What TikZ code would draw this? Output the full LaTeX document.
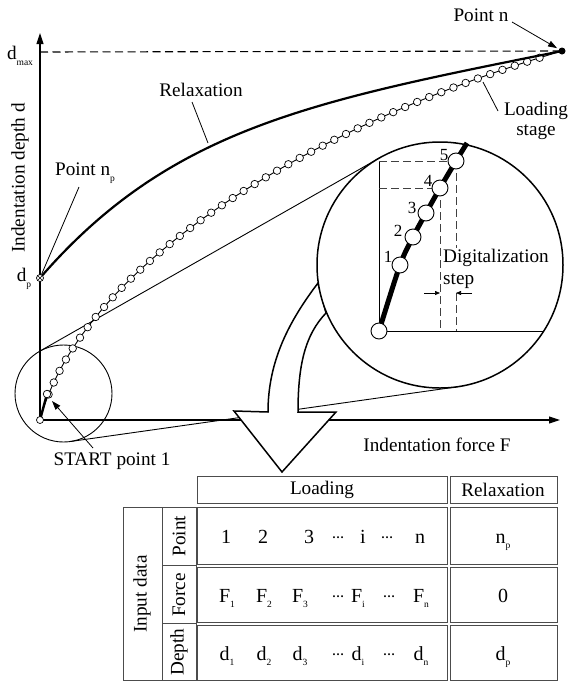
\documentclass[tikz,border=0pt]{standalone}
\usepackage{fontspec}
\setmainfont{Liberation Serif}
\usepackage{amsmath}
\usetikzlibrary{arrows.meta,decorations.markings}
\newcommand{\sbs}[1]{\raisebox{-0.28em}{\fontsize{9.5}{9.5}\selectfont #1}}
\newcommand{\tdots}{\raisebox{5pt}{\fontsize{12}{12}\selectfont\textbf{…}}}
\tikzset{
  lbl/.style={font=\fontsize{19.2}{20}\selectfont, inner sep=0pt},
  tbl/.style={font=\fontsize{20}{22}\selectfont, inner sep=0pt},
  numl/.style={font=\fontsize{17}{20}\selectfont, inner sep=0pt},
  tcell/.style={draw=black!70, line width=0.9pt},
  dot/.style={circle, draw, fill=white, inner sep=0pt, minimum size=7.5pt, line width=0.7pt},
  bigdot/.style={circle, draw, fill=white, inner sep=0pt, minimum size=16pt, line width=0.9pt},
  dsh/.style={dash pattern=on 8pt off 4pt, line width=1pt, black!75},
  lead/.style={line width=0.8pt},
  ptr/.style={line width=0.8pt, -{Triangle[length=9pt,width=6pt]}},
  sptr/.style={line width=0.7pt, -{Triangle[length=5pt,width=4pt]}},
  axis/.style={line width=1.1pt, -{Triangle[length=11pt,width=7pt]}},
}
\begin{document}
\begin{tikzpicture}[x=1pt,y=-1pt]
\useasboundingbox (0,0) rectangle (568,681);
% ---------- coordinates
\coordinate (O) at (40,420);
\coordinate (ytop) at (40,33);
\coordinate (xend) at (560,420);
\coordinate (dmaxL) at (40,52);
\coordinate (NP) at (40,278);
\node[circle, fill, inner sep=0pt, minimum size=7pt] (N) at (562,51) {};
% ---------- small circle and tangents
\draw[line width=0.9pt] (63.5,393.5) circle (48.5);
\coordinate (t1a) at (39.5,351.3);
\coordinate (t1b) at (379.2,158.1);
\coordinate (t2a) at (70.3,441.5);
\coordinate (t2b) at (457.2,386.8);
\draw[line width=0.9pt] (t1a) -- (t1b);
\draw[line width=0.9pt] (t2a) -- (t2b);
% ---------- dmax dashed
\draw[dash pattern=on 8pt off 4.5pt, line width=1.1pt] (dmaxL) -- (N.center);
% ---------- loading curve
\draw[line width=0.9pt, postaction={decorate},
  decoration={markings, mark=between positions 27pt and -22pt step 13pt with {\node[dot] {};}}]
  (O) .. controls (80,270) and (300,128) .. (N.center);
\draw[line width=2.4pt] (O) -- (47,394);
\node[dot] at (47,394) {};
% ---------- relaxation curve
\draw[line width=2.2pt] (NP) .. controls (170,128) and (312,101) .. (N.center);
% ---------- axes
\draw[axis] (O) -- (ytop);
\draw[axis] (O) -- (xend);
\node[dot, minimum size=7pt] (o) at (O) {};
\node[dot, minimum size=7pt] (dp) at (NP) {};
\draw[line width=0.5pt] (dp.north west) -- (dp.south east) (dp.north east) -- (dp.south west);
% ---------- labels of main plot
\node[lbl] at (20,56) {d\sbs{max}};
\node[lbl, rotate=90] at (20,178) {Indentation depth d};
\node[lbl] at (24,279) {d\sbs{p}};
\node[lbl] (relax) at (201,90) {Relaxation};
\coordinate (relaxc) at (208,143);
\draw[lead] (192,102) -- (relaxc);
\node[lbl] (pnp) at (85,173) {Point n\sbs{p}};
\draw[lead] (79,187) -- (dp);
\node[lbl, align=center] (ls) at (536,121) {Loading\\stage};
\coordinate (lsc) at (483,82);
\draw[lead] (498,111) -- (lsc);
\node[lbl] (pn) at (481,15) {Point n};
\draw[ptr, shorten >=2pt] (512,22) -- (N);
\node[lbl] (st) at (112,461) {START point 1};
\draw[ptr] (93,448) -- (52,401);
\node[lbl] (xf) at (437,445) {Indentation force F};
% ---------- big hollow arrow
\draw[line width=1.5pt, fill=white, line join=miter]
  (318,283) .. controls (290,320) and (268,360) .. (268,412)
  -- (234,411) -- (282,472) -- (336,412) -- (298,412)
  .. controls (298,365) and (305,335) .. (326,313) -- cycle;
% ---------- magnified circle
\draw[line width=1.5pt, fill=white] (440,265) circle (123);
\coordinate (mO) at (379,331);
\coordinate (m1) at (400,265);
\coordinate (m2) at (413,237);
\coordinate (m3) at (426,213);
\coordinate (m4) at (440,188);
\coordinate (m5) at (456,161);
\coordinate (mE) at (467,143);
\draw[line width=0.8pt] (379,161) -- (mO) -- (543.8,331);
\draw[dsh] (379,161) -- (m5);
\draw[dsh] (379,188) -- (m4);
\draw[dsh] (m4) -- (440,331);
\draw[dsh] (m5) -- (456,331);
\draw[line width=5pt] plot[smooth, tension=0.5] coordinates {(mO) (m1) (m2) (m3) (m4) (m5) (mE)};
\foreach \p in {mO,m1,m2,m3,m4,m5} \node[bigdot] at (\p) {};
\node[numl] at (388,257) {1};
\node[numl] at (398,231) {2};
\node[numl] at (412,208) {3};
\node[numl] at (428,181) {4};
\node[numl] at (444,155) {5};
\node[lbl, align=left, anchor=west, fill=white, inner sep=1pt, font=\fontsize{19.2}{22}\selectfont] (dig) at (442,269) {Digitalization\\step};
\draw[sptr] (424,293) -- (440,293);
\draw[sptr] (472,293) -- (456,293);
% ---------- table
\draw[tcell] (197,476) rectangle (447,503);
\draw[tcell] (450,476) rectangle (557,503);
\draw[tcell] (197,507) rectangle (447,564);
\draw[tcell] (197,567) rectangle (447,622);
\draw[tcell] (197,625) rectangle (447,680);
\draw[tcell] (450,507) rectangle (557,564);
\draw[tcell] (450,567) rectangle (557,622);
\draw[tcell] (450,625) rectangle (557,680);
\draw[tcell] (123,507) rectangle (196,680);
\draw[tcell] (162,507) -- (162,680);
\draw[tcell] (162,565) -- (196,565) (162,623) -- (196,623);
\node[lbl] at (322,490) {Loading};
\node[lbl] at (503,490) {Relaxation};
\node[lbl, rotate=90] at (142,594) {Input data};
\node[lbl, rotate=90] at (179,536) {Point};
\node[lbl, rotate=90] at (179,595) {Force};
\node[lbl, rotate=90] at (179,652) {Depth};
% point row
\foreach \x/\t in {226/1, 263/2, 309/3, 338/\tdots, 363/i, 387/\tdots, 420/n}
  \node[tbl, anchor=base] at (\x,543) {\t};
\node[tbl, anchor=base] at (503,543) {n\sbs{p}};
% force row
\foreach \x/\t in {227/F\sbs{1}, 264/F\sbs{2}, 300/F\sbs{3}, 338/\tdots, 358/F\sbs{i}, 389/\tdots, 421/F\sbs{n}}
  \node[tbl, anchor=base] at (\x,602) {\t};
\node[tbl, anchor=base] at (503,602) {0};
% depth row
\foreach \x/\t in {227/d\sbs{1}, 264/d\sbs{2}, 300/d\sbs{3}, 338/\tdots, 358/d\sbs{i}, 389/\tdots, 421/d\sbs{n}}
  \node[tbl, anchor=base] at (\x,660) {\t};
\node[tbl, anchor=base] at (503,660) {d\sbs{p}};
\end{tikzpicture}
\end{document}
